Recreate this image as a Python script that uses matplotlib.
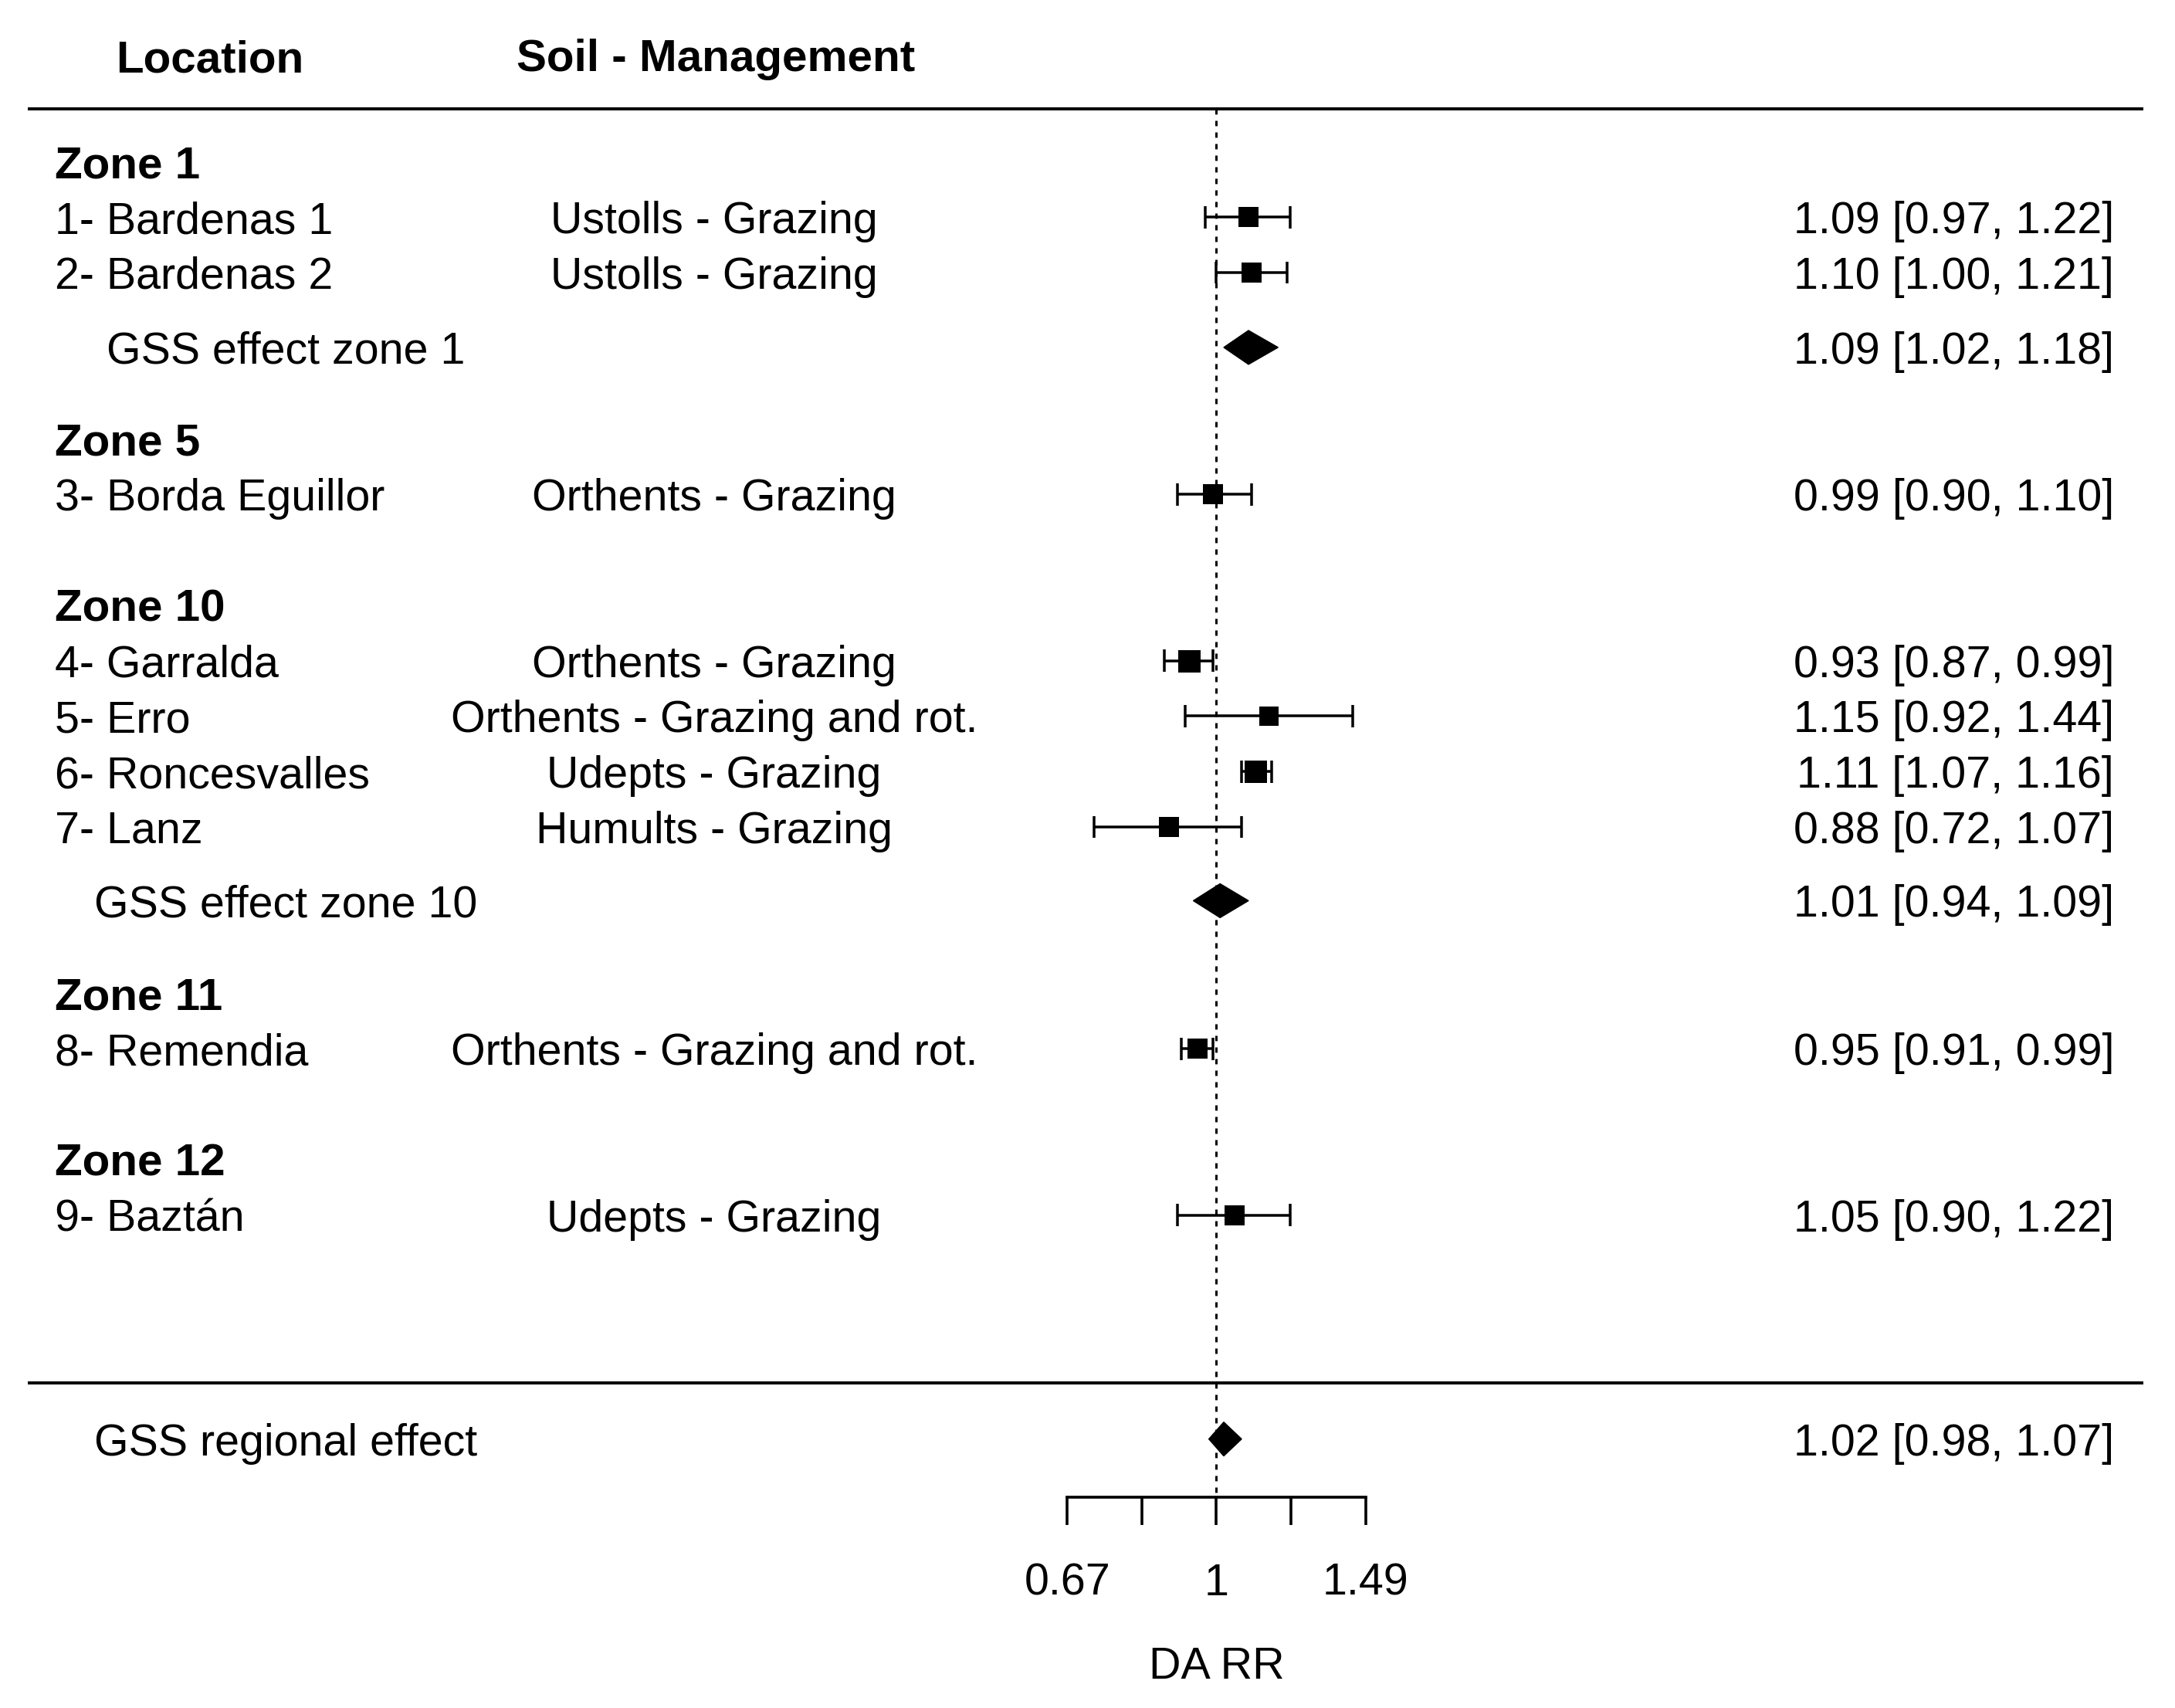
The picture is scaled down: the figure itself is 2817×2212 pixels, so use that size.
import matplotlib
matplotlib.use("Agg")
import matplotlib.pyplot as plt
import matplotlib.transforms as mtransforms
from matplotlib.patches import Polygon
import numpy as np

plt.rcParams['font.family'] = ['Liberation Sans', 'DejaVu Sans']

# ---- data ----
zones = ["Zone 1", "Zone 5", "Zone 10", "Zone 11", "Zone 12"]
zone_rows = [-1, 4, 7, 14, 17]

studies = ["1- Bardenas 1", "2- Bardenas 2", "3- Borda Eguillor", "4- Garralda",
           "5- Erro", "6- Roncesvalles", "7- Lanz", "8- Remendia", "9- Baztán"]
soil = ["Ustolls - Grazing", "Ustolls - Grazing", "Orthents - Grazing",
        "Orthents - Grazing", "Orthents - Grazing and rot.", "Udepts - Grazing",
        "Humults - Grazing", "Orthents - Grazing and rot.", "Udepts - Grazing"]
study_rows = [0, 1, 5, 8, 9, 10, 11, 15, 18]
rr = [1.09, 1.10, 0.99, 0.93, 1.15, 1.11, 0.88, 0.95, 1.05]
rr_lo = [0.97, 1.00, 0.90, 0.87, 0.92, 1.07, 0.72, 0.91, 0.90]
rr_hi = [1.22, 1.21, 1.10, 0.99, 1.44, 1.16, 1.07, 0.99, 1.22]

summ_labels = ["GSS effect zone 1", "GSS effect zone 10", "GSS regional effect"]
summ_rows = [2.35, 12.33, 22.04]
summ = [1.09, 1.01, 1.02]
summ_lo = [1.02, 0.94, 0.98]
summ_hi = [1.18, 1.09, 1.07]

ticks_log = [-0.4, -0.2, 0.0, 0.2, 0.4]
tick_labels = ["0.67", "", "1", "", "1.49"]

# square side in px (study weight)
sq_px = [26, 26, 26, 29, 25, 29, 26, 26, 26]

fig = plt.figure(figsize=(28.17, 22.12), dpi=100)
ax = fig.add_axes([0, 0, 1, 1])
ax.set_xlim(-3.2617, 2.5706)
ax.set_ylim((2212 - 281.2) / 71.8, -281.2 / 71.8)
ax.axis('off')

bt = mtransforms.blended_transform_factory(ax.transAxes, ax.transData)
fs = 41.3
fsb = 42
px = 72.0 / 100.0  # px -> pt

# headers and rules
ax.text(0.0963, -2.91, "Location", transform=bt, ha='center', va='center_baseline',
        fontsize=fsb, fontweight='bold')
ax.text(0.329, -2.93, "Soil - Management", transform=bt, ha='center', va='center_baseline',
        fontsize=fsb, fontweight='bold')
ax.plot([0.0127, 0.9855], [-1.95, -1.95], transform=bt, color='black', lw=4 * px,
        solid_capstyle='butt')
ax.plot([0.0127, 0.9855], [21.03, 21.03], transform=bt, color='black', lw=4 * px,
        solid_capstyle='butt')

# reference line at RR = 1
ax.plot([0, 0], [-1.95, 23.09], color='black', lw=3 * px, linestyle=(0, (2.3, 2.7)))

for z, r in zip(zones, zone_rows):
    ax.text(0.02535, r, z, transform=bt, ha='left', va='center_baseline',
            fontsize=fsb, fontweight='bold')

for i in range(len(studies)):
    y = study_rows[i]
    l, h, e = np.log(rr_lo[i]), np.log(rr_hi[i]), np.log(rr[i])
    ax.plot([l, h], [y, y], color='black', lw=3.5 * px, solid_capstyle='butt')
    ax.vlines([l, h], y - 0.2, y + 0.2, color='black', lw=3.5 * px)
    ax.plot([e], [y], marker='s', color='black', markersize=sq_px[i] * px, mew=0)
    ax.text(0.02535, y, studies[i], transform=bt, ha='left', va='center_baseline', fontsize=fs)
    ax.text(0.3284, y, soil[i], transform=bt, ha='center', va='center_baseline', fontsize=fs)
    ax.text(0.972, y, "%.2f [%.2f, %.2f]" % (rr[i], rr_lo[i], rr_hi[i]), transform=bt,
            ha='right', va='center_baseline', fontsize=fs)

for i in range(len(summ_labels)):
    y = summ_rows[i]
    l, h, e = np.log(summ_lo[i]), np.log(summ_hi[i]), np.log(summ[i])
    ax.add_patch(Polygon([[l, y], [e, y - 0.306], [h, y], [e, y + 0.306]],
                         closed=True, facecolor='black', edgecolor='black', lw=1))
    ax.text(0.1313, y, summ_labels[i], transform=bt, ha='center', va='center_baseline',
            fontsize=fs)
    ax.text(0.972, y, "%.2f [%.2f, %.2f]" % (summ[i], summ_lo[i], summ_hi[i]), transform=bt,
            ha='right', va='center_baseline', fontsize=fs)

# x axis
ax_y = 23.09
ax.plot([ticks_log[0], ticks_log[-1]], [ax_y, ax_y], color='black', lw=3.7 * px,
        solid_capstyle='projecting')
ax.vlines(ticks_log, ax_y, 23.59, color='black', lw=3.6 * px)
for t, lab in zip(ticks_log, tick_labels):
    if lab:
        ax.text(t, 24.56, lab, ha='center', va='center_baseline', fontsize=fs)
ax.text(0, 26.07, "DA RR", ha='center', va='center_baseline', fontsize=fs)

fig.savefig("out.png", dpi=100, facecolor='white')
